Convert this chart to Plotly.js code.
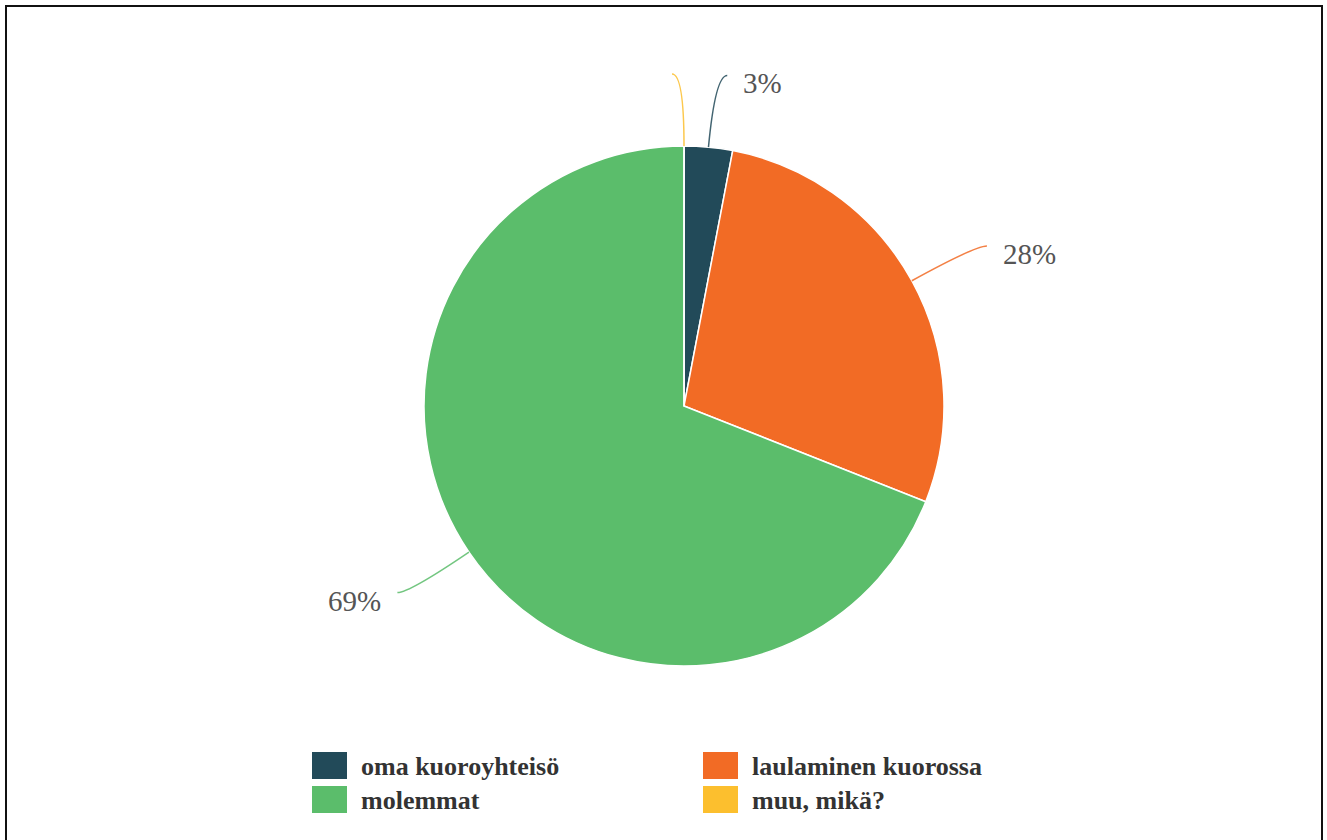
<!DOCTYPE html>
<html>
<head>
<meta charset="utf-8">
<script src="https://cdn.plot.ly/plotly-3.0.1.min.js"></script>
<style>html,body{margin:0;padding:0;background:#fff;}#chart{width:1327px;height:840px;}</style>
</head>
<body>
<div id="chart"></div>
<script>
// ---- data ----
const categories = ["oma kuoroyhteisö", "laulaminen kuorossa", "molemmat", "muu, mikä?"];
const values = [3, 28, 69, 0];
const sliceLabels = ["3%", "28%", "69%", ""];
const colors = ["#224a59", "#f26b25", "#5bbd6b", "#fcbf2e"];

// ---- layout constants ----
const W = 1327, H = 840;
const CX = 684, CY = 406, R = 260;
const LEN1 = 72, LEN2 = 12;
const SERIF = "'Liberation Serif', 'Times New Roman', 'DejaVu Serif', serif";

const px = x => x / W;
const py = y => 1 - y / H;

const total = values.reduce((a, b) => a + b, 0);
const shapes = [];
const annotations = [];

// frame
shapes.push({type: "rect", xref: "paper", yref: "paper", x0: px(6), x1: px(1322), y0: py(860), y1: py(6),
  line: {color: "#111", width: 2}, fillcolor: "rgba(0,0,0,0)"});

// leader lines and labels, derived from values
let cum = 0;
values.forEach((v, i) => {
  const mid = (cum + v / 2) / total * 2 * Math.PI;
  cum += v;
  const sx = Math.sin(mid), sy = -Math.cos(mid);
  const ex = CX + R * sx, ey = CY + R * sy;
  const cx = CX + (R + LEN1) * sx, cy = CY + (R + LEN1) * sy;
  const dir = sx >= 0.001 ? 1 : -1;
  const tx = cx + dir * LEN2, ty = cy;
  const path = `M ${px(ex)},${py(ey)} Q ${px(cx)},${py(cy)} ${px(tx)},${py(ty)}`;
  shapes.push({type: "path", xref: "paper", yref: "paper", path: path,
    line: {color: colors[i], width: 1.5}, opacity: 0.85});
  if (sliceLabels[i]) {
    annotations.push({xref: "paper", yref: "paper", x: px(tx + dir * 14), y: py(ty + 8),
      xanchor: dir > 0 ? "left" : "right", yanchor: "middle", showarrow: false,
      text: sliceLabels[i], font: {family: SERIF, size: 29, color: "#555"}});
  }
});

// custom legend (2 columns)
const legCols = [312, 703], legRows = [752, 786];
categories.forEach((c, i) => {
  const col = i % 2, row = Math.floor(i / 2);
  const x0 = legCols[col], y0 = legRows[row];
  shapes.push({type: "rect", xref: "paper", yref: "paper", x0: px(x0), x1: px(x0 + 35), y0: py(y0 + 27), y1: py(y0),
    fillcolor: colors[i], line: {width: 0}});
  annotations.push({xref: "paper", yref: "paper", x: px(x0 + 47), y: py(y0 + 14), xanchor: "left", yanchor: "middle",
    showarrow: false, text: "<b>" + c + "</b>", font: {family: SERIF, size: 26, color: "#333"}});
});

const trace = {
  type: "pie",
  labels: categories,
  values: values,
  sort: false,
  direction: "clockwise",
  rotation: 0,
  textinfo: "none",
  hoverinfo: "label+percent",
  marker: {colors: colors, line: {color: "#fff", width: 1.5}},
  domain: {x: [px(CX - R), px(CX + R)], y: [py(CY + R), py(CY - R)]},
  showlegend: false
};

const layout = {
  width: W, height: H,
  margin: {l: 0, r: 0, t: 0, b: 0},
  paper_bgcolor: "#fff",
  showlegend: false,
  shapes: shapes,
  annotations: annotations
};

Plotly.newPlot("chart", [trace], layout, {displayModeBar: false, staticPlot: true});
</script>
</body>
</html>
